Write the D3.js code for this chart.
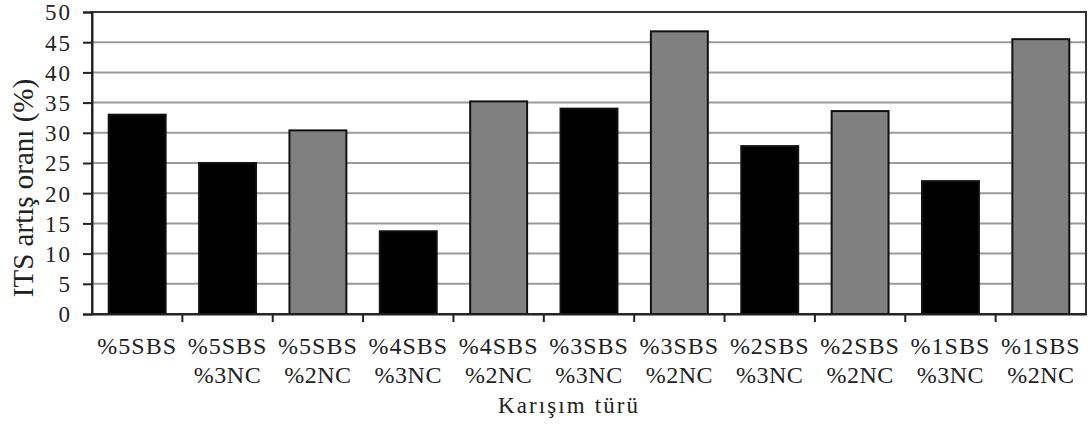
<!DOCTYPE html>
<html><head><meta charset="utf-8">
<script src="https://cdn.jsdelivr.net/npm/d3@7"></script>
<style>
body{margin:0;background:#fff;}
text{font-family:"Liberation Serif","Times New Roman",serif;fill:#222;}
</style></head>
<body><svg id="c" width="1088" height="425"></svg>
<script>
const categories = ["%5SBS","%5SBS|%3NC","%5SBS|%2NC","%4SBS|%3NC","%4SBS|%2NC","%3SBS|%3NC","%3SBS|%2NC","%2SBS|%3NC","%2SBS|%2NC","%1SBS|%3NC","%1SBS|%2NC"];
const values = [33.0, 25.0, 30.4, 13.7, 35.2, 34.0, 46.8, 27.8, 33.6, 22.0, 45.5];
const groups = ["a","a","b","a","b","a","b","a","b","a","b"];
const yTicks = [0,5,10,15,20,25,30,35,40,45,50];
const colors = {a:"#000000", b:"#808080"};

const svg = d3.select("#c");
const m = {l:92, r:2, t:12, b:111};
const W = 1088, H = 425;
const x = d3.scaleBand().domain(categories).range([m.l, W-m.r]).paddingInner(0.37).paddingOuter(0.185);
const xb = d3.scaleBand().domain(categories).range([m.l, W-m.r]);
const y = d3.scaleLinear().domain([0,50]).range([H-m.b, m.t]);

// gridlines
svg.append("g").selectAll("line").data(yTicks.filter(d=>d>0 && d<50)).join("line")
  .attr("x1", m.l).attr("x2", W-m.r).attr("y1", d=>y(d)).attr("y2", d=>y(d))
  .attr("stroke","#9a9a9a").attr("stroke-width",2);
// frame
svg.append("rect").attr("x",m.l).attr("y",y(50)).attr("width",W-m.r-m.l).attr("height",y(0)-y(50))
  .attr("fill","none").attr("stroke","#333").attr("stroke-width",2);

// bars
svg.append("g").selectAll("rect").data(categories).join("rect")
  .attr("x", d=>x(d)).attr("width", x.bandwidth())
  .attr("y", (d,i)=>y(values[i])).attr("height",(d,i)=>y(0)-y(values[i]))
  .attr("fill",(d,i)=>colors[groups[i]]).attr("stroke","#111").attr("stroke-width",2);

// y axis
const ya = svg.append("g").attr("transform",`translate(${m.l},0)`)
  .call(d3.axisLeft(y).tickValues(yTicks).tickSize(9).tickPadding(11));
ya.select(".domain").attr("stroke","#222").attr("stroke-width",2);
ya.selectAll(".tick line").attr("stroke","#222").attr("stroke-width",2);
ya.selectAll(".tick text").attr("font-size",23).attr("font-family","Liberation Serif").attr("fill","#222")
  .attr("dy","0.34em").attr("letter-spacing","2px");

// x axis
const xa = svg.append("g").attr("transform",`translate(0,${y(0)})`)
  .call(d3.axisBottom(xb).tickSize(0).tickFormat(""));
xa.select(".domain").attr("stroke","#222").attr("stroke-width",2);
xa.selectAll(".tick").remove();
const bounds = categories.map(d=>xb(d)).concat([W-m.r]);
xa.selectAll("line.tk").data(bounds.slice(1,-1)).join("line").attr("class","tk")
  .attr("x1",d=>d).attr("x2",d=>d).attr("y1",0).attr("y2",8).attr("stroke","#222").attr("stroke-width",2);

// x labels
const lab = svg.append("g").selectAll("text").data(categories).join("text")
  .attr("x", d=>xb(d)+xb.bandwidth()/2).attr("y", y(0)+40)
  .attr("text-anchor","middle").attr("font-size",24);
lab.each(function(d){
  const parts = d.split("|");
  d3.select(this).selectAll("tspan").data(parts).join("tspan")
    .attr("x", xb(d)+xb.bandwidth()/2).attr("dy",(p,i)=>i?29:0)
    .attr("letter-spacing",(p,i)=>i?"0.5px":"1px").text(p=>p);
});

// titles
svg.append("text").attr("x",568).attr("y",413).attr("text-anchor","middle").attr("font-size",23)
  .attr("textLength",140).attr("lengthAdjust","spacing").text("Karışım türü");
svg.append("text").attr("transform","translate(33,188) rotate(-90)").attr("text-anchor","middle").attr("font-size",29)
  .text("ITS artış oranı (%)");
</script></body></html>
